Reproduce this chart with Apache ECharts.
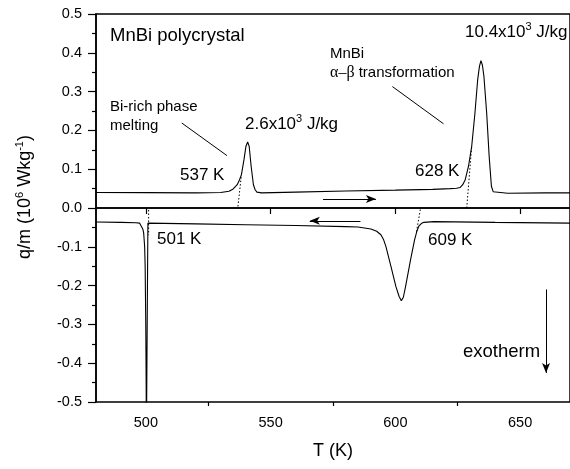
<!DOCTYPE html>
<html>
<head>
<meta charset="utf-8">
<script src="https://cdn.jsdelivr.net/npm/echarts@6/dist/echarts.min.js"></script>
<style>
html, body { margin: 0; padding: 0; background: #fff; }
#chart { width: 570px; height: 469px; }
</style>
</head>
<body>
<div id="chart"></div>
<script>
// heating run (upper trace), T in K, q/m in 10^6 W/kg
const heatT = [480, 500, 520, 530, 533.3, 535, 536.6, 537.5, 538.3, 539.3, 540.1, 540.8, 541.4, 542.2, 543.1, 543.8, 544.5, 546.4,
    560, 580, 600, 615, 622, 624.5, 626, 627, 628, 629.3, 630.6, 631.9, 633, 633.7, 634.3, 634.9, 635.5, 636.6, 637.6, 638.5, 639.2, 639.9,
    645, 660, 670]
const heatQ = [0.040, 0.0395, 0.039, 0.040, 0.043, 0.049, 0.060, 0.072, 0.086, 0.124, 0.159, 0.170, 0.159, 0.107, 0.060, 0.047, 0.041, 0.039,
    0.041, 0.044, 0.046, 0.048, 0.050, 0.051, 0.053, 0.060, 0.073, 0.107, 0.159, 0.245, 0.331, 0.365, 0.380, 0.368, 0.339, 0.245, 0.133, 0.056, 0.042, 0.037,
    0.038, 0.039, 0.039]

// cooling run (lower trace)
const coolT = [480, 490, 496, 497.5, 498.2, 498.8, 499.1, 499.5, 499.7, 499.95, 500.1, 500.2, 500.8, 500.8,
    520, 540, 560, 580, 585, 590.2, 592.5, 594.2, 595.3, 596.2, 598.2, 600.2, 601.5, 602.4, 603.2, 604.1, 606.1, 607.7, 608.6, 609.4, 610.4, 611.4, 615.4,
    640, 670]
const coolQ = [-0.036, -0.037, -0.038, -0.039, -0.043, -0.055, -0.064, -0.10, -0.15, -0.30, -0.45, -0.60, -0.60, -0.039,
    -0.041, -0.043, -0.045, -0.048, -0.049, -0.054, -0.060, -0.069, -0.082, -0.099, -0.150, -0.202, -0.228, -0.239, -0.230, -0.202, -0.133, -0.082, -0.060, -0.047, -0.040, -0.037, -0.035,
    -0.037, -0.039]

// onset tangents (dotted)
const onset537 = [[536.9, 0.004], [538.3, 0.086]]
const onset628 = [[628.6, 0.0], [630.6, 0.159]]
const onset501 = [[501.1, -0.005], [501.1, -0.07]]
const onset609 = [[610.0, -0.004], [608.4, -0.064]]

// arrows and leader lines
const heatArrow = [[571, 0.023], [592.2, 0.023]]
const coolArrow = [[586, -0.033], [565.7, -0.033]]
const exoArrow = [[660.4, -0.21], [660.4, -0.425]]
const biLeader = [[514.4, 0.219], [532.5, 0.135]]
const mnbiLeader = [[598.8, 0.313], [619.3, 0.217]]

const xTicks = [500, 550, 600, 650]
const xMinorTicks = [525, 575, 625]

const FONT = 'Liberation Sans, Arial, sans-serif'

const zip = (xs, ys) => xs.map((x, i) => [x, ys[i]])

const seg = (pts, arrow) => [
    { coord: pts[0], symbol: 'none' },
    { coord: pts[1], symbol: arrow ? 'arrow' : 'none', symbolSize: arrow ? [6, 10] : 0 },
]

const dotted = (pts) => ({
    type: 'line',
    data: pts,
    showSymbol: false,
    silent: true,
    lineStyle: { color: '#000', width: 1, type: [1.5, 2] },
})

const sup = { fontSize: 11, fontFamily: FONT, verticalAlign: 'top', fill: '#000' }

const label = (x, y, text, size, extra) => ({
    type: 'text',
    x: x,
    y: y,
    silent: true,
    style: Object.assign({
        text: text,
        fontFamily: FONT,
        fontSize: size,
        fill: '#000',
        align: 'left',
        verticalAlign: 'middle',
        lineHeight: 22,
        rich: { sup: sup, g: { fontFamily: 'Liberation Serif, serif', fontSize: size + 1, fill: '#000' } },
    }, extra || {}),
})

const option = {
    animation: false,
    backgroundColor: '#fff',
    grid: {
        left: 96,
        top: 14,
        right: -4,
        bottom: 67,
        show: true,
        borderColor: '#000',
        borderWidth: 1.5,
    },
    xAxis: [
        {
            type: 'value',
            min: 480,
            max: 670,
            name: 'T (K)',
            nameLocation: 'middle',
            nameGap: 40,
            nameTextStyle: { fontFamily: FONT, fontSize: 18, color: '#000' },
            axisLine: { show: true, lineStyle: { color: '#000', width: 1.5 } },
            axisTick: { show: true, inside: false, length: 6, customValues: xTicks, lineStyle: { color: '#000', width: 1.2 } },
            axisLabel: { customValues: xTicks, margin: 13, fontFamily: FONT, fontSize: 14.5, color: '#000' },
            splitLine: { show: false },
        },
        {
            type: 'value',
            min: 480,
            max: 670,
            position: 'bottom',
            axisLine: { show: false },
            axisTick: { show: true, length: 4, customValues: xMinorTicks, lineStyle: { color: '#000', width: 1.2 } },
            axisLabel: { show: false },
            splitLine: { show: false },
        },
    ],
    yAxis: {
        type: 'value',
        min: -0.5,
        max: 0.5,
        interval: 0.1,
        name: 'q/m (10{sup|6} Wkg{sup|-1})',
        nameLocation: 'middle',
        nameRotate: 90,
        nameGap: 60,
        nameTextStyle: {
            fontFamily: FONT, fontSize: 18, color: '#000', lineHeight: 22,
            padding: [0, 0, 0, 22],
            rich: { sup: sup },
        },
        axisLine: { show: true, lineStyle: { color: '#000', width: 1.5 } },
        axisTick: { show: true, length: 8, lineStyle: { color: '#000', width: 1.2 } },
        minorTick: { show: true, splitNumber: 2, length: 4, lineStyle: { color: '#000', width: 1.2 } },
        axisLabel: {
            margin: 14, fontFamily: FONT, fontSize: 14.5, color: '#000',
            formatter: (v) => v.toFixed(1),
        },
        splitLine: { show: false },
    },
    series: [
        {
            name: 'heating',
            type: 'line',
            data: zip(heatT, heatQ),
            showSymbol: false,
            lineStyle: { color: '#000', width: 1.1 },
            markLine: {
                silent: true,
                symbol: 'none',
                label: { show: false },
                lineStyle: { color: '#000', width: 1.5, type: 'solid' },
                data: [{ yAxis: 0 }],
            },
        },
        {
            name: 'cooling',
            type: 'line',
            data: zip(coolT, coolQ),
            showSymbol: false,
            lineStyle: { color: '#000', width: 1.1 },
            markLine: {
                silent: true,
                label: { show: false },
                lineStyle: { color: '#000', width: 1, type: 'solid' },
                data: [
                    seg(heatArrow, true),
                    seg(coolArrow, true),
                    seg(exoArrow, true),
                    seg(biLeader, false),
                    seg(mnbiLeader, false),
                ],
            },
        },
        dotted(onset537),
        dotted(onset628),
        dotted(onset501),
        dotted(onset609),
    ],
    graphic: [
        label(110, 36, 'MnBi polycrystal', 18.5),
        label(110, 106.5, 'Bi-rich phase', 15),
        label(110, 125.5, 'melting', 15),
        label(245, 124, '2.6x10{sup|3} J/kg', 17),
        label(180, 175, '537 K', 17),
        label(465, 32.5, '10.4x10{sup|3} J/kg', 17),
        label(330, 54, 'MnBi', 15),
        label(330, 72.5, '{g|α–β} transformation', 15),
        label(415, 171.5, '628 K', 17),
        label(157, 239.5, '501 K', 17),
        label(428, 240, '609 K', 17),
        label(463, 351.5, 'exotherm', 18.5),
    ],
}

const myChart = echarts.init(document.getElementById('chart'), null, { renderer: 'canvas' })
myChart.setOption(option)
</script>
</body>
</html>
